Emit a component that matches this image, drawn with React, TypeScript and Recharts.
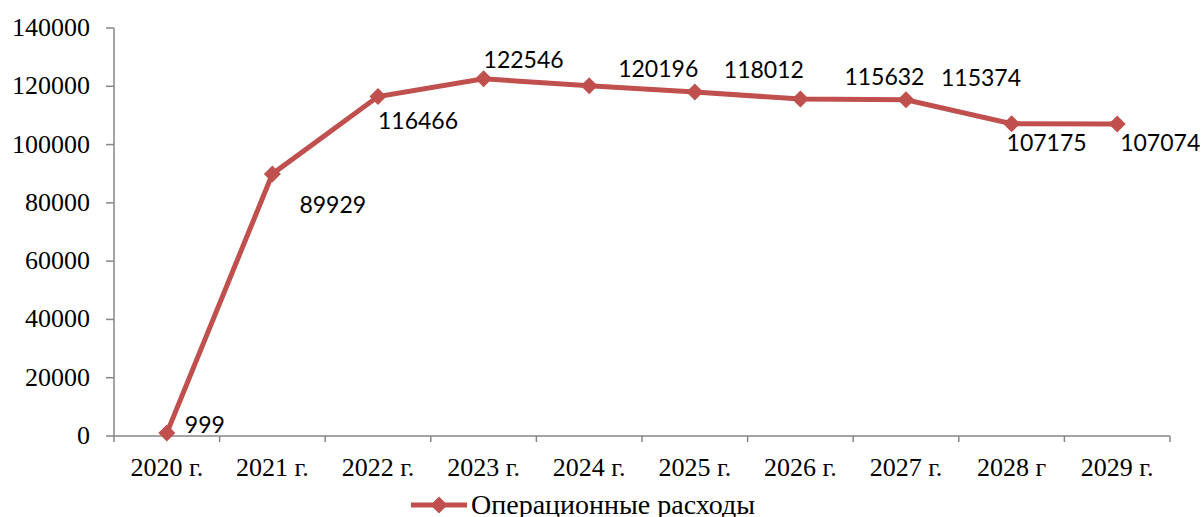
import { LineChart, Line, XAxis, YAxis, Legend, LabelList } from 'recharts';

const years = ['2020 г.', '2021 г.', '2022 г.', '2023 г.', '2024 г.', '2025 г.', '2026 г.', '2027 г.', '2028 г', '2029 г.'];
const opex = [999, 89929, 116466, 122546, 120196, 118012, 115632, 115374, 107175, 107074];
const yTicks = [0, 20000, 40000, 60000, 80000, 100000, 120000, 140000];
const seriesName = 'Операционные расходы';

// where each value label sits relative to its point: [left edge dx, centre dy]
const labelShift: [number, number][] = [
  [18, -9], [27, 30], [0, 23], [0, -20], [29, -18],
  [29, -23], [44, -23], [35, -23], [-5, 18], [3, 18],
];

const data = years.map((year, i) => ({ year, value: opex[i] }));

const RED = '#C0504D';
const AXIS = '#868686';
const SERIF = "'Liberation Serif', 'Times New Roman', serif";
const W = 1203;
const H = 517;
const M = { top: 28, right: 33, left: 0, bottom: 0 };
const Y_W = 114;
const BAND = (W - M.right - Y_W) / years.length;

const Diamond = (props: any) => {
  const { cx, cy, index } = props;
  if (cx == null || cy == null) return <g key={index} />;
  const r = 8.5;
  return (
    <path
      key={index}
      d={`M${cx},${cy - r} L${cx + r},${cy} L${cx},${cy + r} L${cx - r},${cy} Z`}
      fill={RED}
    />
  );
};

// category tick: label in the middle, tick marks on the band edges
const YearTick = (props: any) => {
  const { x, y, payload, index } = props;
  const left = x - BAND / 2;
  const last = index === years.length - 1;
  return (
    <g>
      <line x1={left} y1={y - 8} x2={left} y2={y - 2} stroke={AXIS} strokeWidth={1.5} />
      {last && <line x1={x + BAND / 2} y1={y - 8} x2={x + BAND / 2} y2={y - 2} stroke={AXIS} strokeWidth={1.5} />}
      <text x={x} y={y + 32} textAnchor="middle" style={{ fontFamily: SERIF, fontSize: 26 }} fill="#000">
        {payload.value}
      </text>
    </g>
  );
};

const ValueTick = (props: any) => {
  const { x, y, payload } = props;
  return (
    <g>
      <text x={x} y={y + 8} textAnchor="end" style={{ fontFamily: SERIF, fontSize: 26 }} fill="#000">
        {payload.value}
      </text>
    </g>
  );
};

const ValueLabel = (props: any) => {
  const { x, y, value, index } = props;
  const [dx, dy] = labelShift[index] || [0, 0];
  return (
    <text x={x + dx} y={y + dy} dominantBaseline="central" textAnchor="start" fontFamily="Lato, 'Open Sans', sans-serif" fontSize={23} fill="#000">
      {value}
    </text>
  );
};

const LegendContent = () => (
  <div style={{ display: 'flex', justifyContent: 'center', alignItems: 'center', height: 36, marginTop: 6, marginLeft: -4 }}>
    <svg width={58} height={20}>
      <line x1={0} y1={10} x2={56} y2={10} stroke={RED} strokeWidth={5} />
      <path d="M28,1.5 L36.5,10 L28,18.5 L19.5,10 Z" fill={RED} />
    </svg>
    <span style={{ fontFamily: SERIF, fontSize: 28, color: '#000', marginLeft: 2, lineHeight: '36px' }}>
      {seriesName}
    </span>
  </div>
);

const App = () => {
  return (
    <div style={{ position: 'absolute', left: 0, top: 0, background: '#fff' }}>
      <LineChart width={W} height={H} data={data} margin={M}>
        <XAxis
          dataKey="year"
          stroke={AXIS}
          strokeWidth={1.5}
          tickLine={false}
          tick={(p: any) => <YearTick {...p} />}
          height={45}
          interval={0}
          padding={{ left: BAND / 2, right: BAND / 2 }}
        />
        <YAxis
          domain={[0, 140000]}
          ticks={yTicks}
          width={Y_W}
          stroke={AXIS}
          strokeWidth={1.5}
          tickSize={8}
          tickMargin={16}
          tick={(p: any) => <ValueTick {...p} />}
          interval={0}
        />
        <Legend verticalAlign="bottom" height={36} content={<LegendContent />} />
        <Line
          dataKey="value"
          name={seriesName}
          stroke={RED}
          strokeWidth={5}
          dot={<Diamond />}
          activeDot={false}
          isAnimationActive={false}
        >
          <LabelList dataKey="value" content={<ValueLabel />} />
        </Line>
      </LineChart>
    </div>
  );
};

export default App;
